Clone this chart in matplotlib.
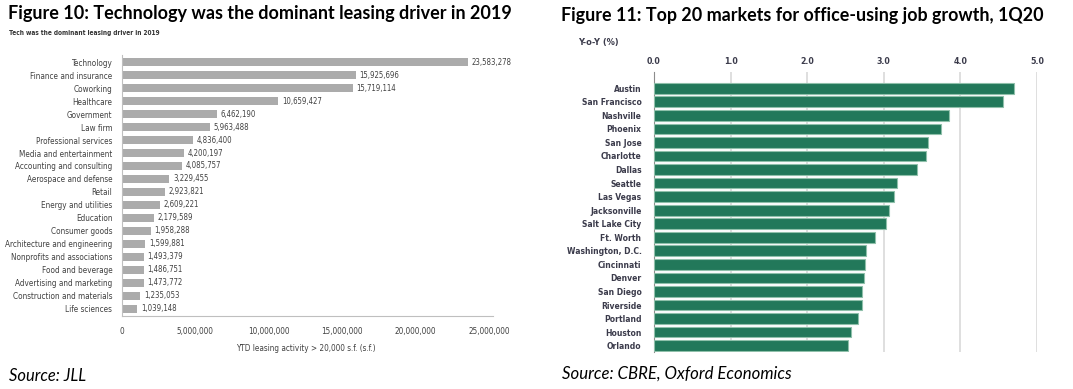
import numpy as np
import matplotlib.pyplot as plt
from matplotlib import font_manager

# left chart data (JLL)
sectors = ["Technology", "Finance and insurance", "Coworking", "Healthcare", "Government",
           "Law firm", "Professional services", "Media and entertainment",
           "Accounting and consulting", "Aerospace and defense", "Retail",
           "Energy and utilities", "Education", "Consumer goods",
           "Architecture and engineering", "Nonprofits and associations",
           "Food and beverage", "Advertising and marketing",
           "Construction and materials", "Life sciences"]
leasing = [23583278, 15925696, 15719114, 10659427, 6462190, 5963488, 4836400, 4200197,
           4085757, 3229455, 2923821, 2609221, 2179589, 1958288, 1599881, 1493379,
           1486751, 1473772, 1235053, 1039148]
left_ticks = [0, 5000000, 10000000, 15000000, 20000000, 25000000]

# right chart data (CBRE)
markets = ["Austin", "San Francisco", "Nashville", "Phoenix", "San Jose", "Charlotte",
           "Dallas", "Seattle", "Las Vegas", "Jacksonville", "Salt Lake City", "Ft. Worth",
           "Washington, D.C.", "Cincinnati", "Denver", "San Diego", "Riverside",
           "Portland", "Houston", "Orlando"]
growth = [4.70, 4.56, 3.85, 3.75, 3.58, 3.55, 3.44, 3.17, 3.14, 3.07, 3.03, 2.88,
          2.77, 2.75, 2.74, 2.72, 2.72, 2.66, 2.57, 2.53]
right_ticks = [0.0, 1.0, 2.0, 3.0, 4.0, 5.0]

# look for a narrow sans font, the originals use condensed faces
narrow, stretch = "DejaVu Sans", "normal"
cond = [f for f in font_manager.fontManager.ttflist
        if ("Narrow" in f.name or "Condensed" in f.name
            or f.stretch in ("condensed", "semi-condensed", "extra-condensed"))
        and "Mono" not in f.name and "Serif" not in f.name]
if cond:
    narrow, stretch = cond[0].name, cond[0].stretch

fig = plt.figure(figsize=(10.73, 3.89), dpi=100)
renderer = fig.canvas.get_renderer()


# pick a font size so that a text is about as wide as in the picture
def fit(txt, px, **kw):
    t = fig.text(0, 0, txt, fontsize=10, **kw)
    w = t.get_window_extent(renderer).width
    t.remove()
    return 10 * px / w


nar = dict(family=narrow, fontstretch=stretch)

# titles
t10 = "Figure 10: Technology was the dominant leasing driver in 2019"
t11 = "Figure 11: Top 20 markets for office-using job growth, 1Q20"
fig.text(0.007, 0.966, t10, fontsize=fit(t10, 503, family="Lato", fontweight="bold"),
         fontweight="bold", family="Lato", va="center")
fig.text(0.008, 0.915, "Tech was the dominant leasing driver in 2019",
         fontsize=fit("Tech was the dominant leasing driver in 2019", 151, fontweight="bold", **nar),
         fontweight="bold", va="center", color="#333333", **nar)
fig.text(0.523, 0.961, t11, fontsize=fit(t11, 481, family="Lato", fontweight="bold"),
         fontweight="bold", family="Lato", va="center")
fig.text(0.539, 0.892, "Y-o-Y (%)", fontsize=fit("Y-o-Y (%)", 40, fontweight="bold", **nar),
         fontweight="bold", va="center", color="#3b3b4b", **nar)
fig.text(0.008, 0.033, "Source: JLL", fontsize=fit("Source: JLL", 77, family="Lato", style="italic"),
         style="italic", family="Lato", va="center")
fig.text(0.524, 0.04, "Source: CBRE, Oxford Economics",
         fontsize=fit("Source: CBRE, Oxford Economics", 229, family="Lato", style="italic"),
         style="italic", family="Lato", va="center")

# left chart
lab_fs = fit("Architecture and engineering", 108, **nar)
val_fs = fit("23,583,278", 40, **nar)
tick_fs = fit("25,000,000", 42, **nar)
xl_fs = fit("YTD leasing activity > 20,000 s.f. (s.f.)", 140, **nar)

ax1 = fig.add_axes([0.1137, 0.1877, 0.342, 0.6709])
y = np.arange(len(sectors))
ax1.barh(y, leasing, height=0.6, color="#ababab")
for i, v in enumerate(leasing):
    ax1.text(v + 250000, i, f"{v:,}", va="center", ha="left", fontsize=val_fs,
             color="#404040", **nar)
ax1.set_ylim(19.54, -0.54)
ax1.set_xlim(0, 25000000)
ax1.set_xticks(left_ticks)
ax1.set_xticklabels([f"{t:,}" for t in left_ticks], fontsize=tick_fs, color="#404040", **nar)
ax1.set_yticks(y)
ax1.set_yticklabels(sectors, fontsize=lab_fs, color="#404040", **nar)
ax1.tick_params(axis="both", length=0)
ax1.tick_params(axis="x", pad=8)
ax1.tick_params(axis="y", pad=7)
ax1.set_xlabel("YTD leasing activity > 20,000 s.f. (s.f.)", fontsize=xl_fs,
               color="#404040", labelpad=6, **nar)
for s in ["top", "right"]:
    ax1.spines[s].set_visible(False)
for s in ["left", "bottom"]:
    ax1.spines[s].set_color("#bfbfbf")
ax1.spines["bottom"].set_bounds(0, 25000000 * 1.01)

# right chart
mk_fs = fit("Washington, D.C.", 74, fontweight="bold", **nar)
rt_fs = fit("5.0", 14, fontweight="bold", **nar)

ax2 = fig.add_axes([0.6095, 0.0951, 0.3569, 0.7198])
y2 = np.arange(len(markets))
ax2.barh(y2, growth, height=0.79, color="#22785a", edgecolor="#8fc0aa", linewidth=0.8,
         zorder=3)
ax2.set_ylim(19.47, -1.2)
ax2.set_xlim(0, 5.0)
ax2.xaxis.tick_top()
ax2.set_xticks(right_ticks)
ax2.set_xticklabels([f"{t:.1f}" for t in right_ticks], fontsize=rt_fs, fontweight="bold",
                    color="#3b3b4b", **nar)
ax2.set_yticks(y2)
ax2.set_yticklabels(markets, fontsize=mk_fs, fontweight="bold", color="#3b3b4b", **nar)
ax2.tick_params(axis="both", length=0)
ax2.tick_params(axis="x", pad=4)
ax2.tick_params(axis="y", pad=9)
ax2.grid(axis="x", color="#d9d9d9", linewidth=1.2, zorder=0)
for s in ["top", "right", "bottom"]:
    ax2.spines[s].set_visible(False)
ax2.spines["left"].set_color("#8c8c8c")

fig.savefig("out.png", dpi=100)
